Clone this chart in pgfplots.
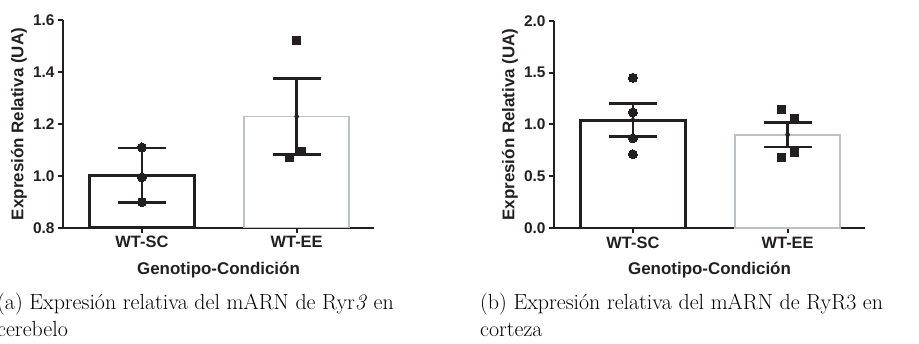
\documentclass[border=0pt]{standalone}
\usepackage{fontspec}
\usepackage{pgfplots}
\pgfplotsset{compat=1.18}
\newfontfamily\arial{Liberation Sans}
\definecolor{ink}{HTML}{231F20}
\definecolor{lgray}{HTML}{BDBFC9}
\pgfplotsset{
 panel/.style={
  scale only axis, anchor=south west, width=311bp,
  axis x line*=bottom, axis y line*=left,
  axis line style={ink, line width=2bp},
  xmin=-0.51, xmax=1.5,
  xtick={0,1}, xticklabels={WT-SC,WT-EE},
  tick align=outside, major tick length=5bp,
  tick style={ink, line width=2bp},
  /pgf/number format/assume math mode=true,
  yticklabel style={font=\arial\bfseries\fontsize{15.5}{17}\selectfont, text=ink,
     /pgf/number format/fixed, /pgf/number format/fixed zerofill, /pgf/number format/precision=1},
  xticklabel style={font=\arial\bfseries\fontsize{16.5}{18}\selectfont, text=ink},
  label style={font=\arial\bfseries\fontsize{17}{19}\selectfont, text=ink},
  xlabel={Genotipo-Condición}, ylabel={Expresión Relativa (UA)},
  xlabel style={at={(axis description cs:0.5,-0.2212)}, anchor=base},
  ylabel style={at={(axis description cs:-0.1415,0.5)}, anchor=center},
 },
 barsc/.style={ybar, bar shift=0pt, bar width=0.677, draw=ink, line width=3bp, fill=white},
 baree/.style={ybar, bar shift=0pt, bar width=0.677, draw=lgray, line width=1.8bp, fill=white},
 errb/.style={only marks, mark=none, ink,
   error bars/.cd, y dir=both, y explicit,
   error bar style={line width=2.7bp, ink},
   error mark options={rotate=90, line width=2.7bp, ink, mark size=24bp}},
 circ/.style={only marks, mark=*, mark size=4.5bp, ink, mark options={fill=ink, draw=ink, line width=0pt}},
 sq/.style={only marks, mark=square*, mark size=4bp, ink, mark options={fill=ink, draw=ink, line width=0pt}},
}
\begin{document}
\begin{tikzpicture}
\path[use as bounding box] (0,0) rectangle (919bp,344bp);
% Panel (a)
\begin{axis}[panel, at={(63bp,116bp)}, height=208bp,
  ymin=0.8, ymax=1.6, ytick={0.8,1.0,1.2,1.4,1.6}]
\addplot[barsc] coordinates {(0,1.003)};
\addplot[baree] coordinates {(1,1.229)};
\addplot[circ] coordinates {(0,1.11) (0,0.995) (0,0.90)};
\addplot[sq] coordinates {(1,1.52) (1.032,1.095) (0.955,1.07)};
\addplot[errb] coordinates {(0,1.003) +- (0,0.105) (1,1.229) +- (0,0.147)};
\end{axis}
% Panel (b)
\begin{axis}[panel, at={(554bp,115.7bp)}, height=207.6bp,
  ymin=0, ymax=2.0, ytick={0,0.5,1.0,1.5,2.0}]
\addplot[barsc] coordinates {(0,1.043)};
\addplot[baree] coordinates {(1,0.902)};
\addplot[circ] coordinates {(0,1.45) (0,1.117) (0,0.867) (0,0.713)};
\addplot[sq] coordinates {(0.961,1.149) (1.045,1.06) (1.045,0.728) (0.961,0.68)};
\addplot[errb] coordinates {(0,1.043) +- (0,0.161) (1,0.902) +- (0,0.118)};
\end{axis}
% captions
\begin{scope}[every node/.style={anchor=base west, inner sep=0pt, font=\fontsize{22}{26}\selectfont}]
\node at (-3bp,35bp) {(a) Expresión relativa del mARN de Ryr\textit{3} en};
\node at (-3bp,8bp) {cerebelo};
\node at (480bp,35bp) {(b) Expresión relativa del mARN de RyR3 en};
\node at (480bp,8bp) {corteza};
\end{scope}
\end{tikzpicture}
\end{document}
